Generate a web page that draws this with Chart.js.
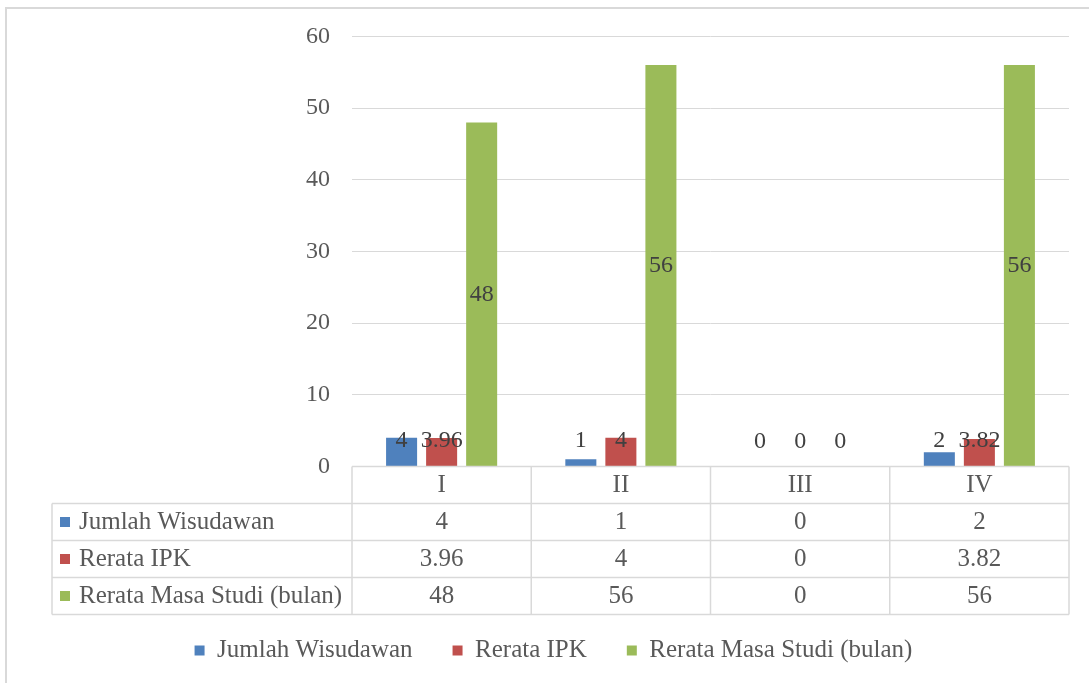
<!DOCTYPE html>
<html><head><meta charset="utf-8">
<script src="https://cdn.jsdelivr.net/npm/chart.js@4.4.1/dist/chart.umd.min.js"></script>
<style>
html,body{margin:0;padding:0;background:#fff;overflow:hidden;}
#wrap{position:relative;width:1089px;height:683px;}
</style></head><body>
<div id="wrap"><canvas id="c"></canvas></div>
<script>
const categories = ['I', 'II', 'III', 'IV'];
const seriesNames = ['Jumlah Wisudawan', 'Rerata IPK', 'Rerata Masa Studi (bulan)'];
const jumlahWisudawan = [4, 1, 0, 2];
const rerataIPK = [3.96, 4, 0, 3.82];
const rerataMasaStudi = [48, 56, 0, 56];
const yTickValues = [0, 10, 20, 30, 40, 50, 60];
const seriesColors = ['#4f81bd', '#c0504d', '#9bbb59'];

const FONT = "'Liberation Serif', 'Times New Roman', serif";
const TEXT = '#595959';
const LINE = '#d9d9d9';
const seriesValues = [jumlahWisudawan, rerataIPK, rerataMasaStudi];

const framePlugin = {
  id: 'frame',
  beforeDraw(chart) {
    const ctx = chart.ctx;
    ctx.save();
    ctx.fillStyle = '#fff';
    ctx.fillRect(0, 0, chart.width, chart.height);
    ctx.strokeStyle = LINE;
    ctx.lineWidth = 2;
    ctx.beginPath();
    ctx.moveTo(6, chart.height);
    ctx.lineTo(6, 8);
    ctx.lineTo(chart.width, 8);
    ctx.stroke();
    ctx.restore();
  }
};

const labelPlugin = {
  id: 'valueLabels',
  afterDatasetsDraw(chart) {
    const ctx = chart.ctx;
    ctx.save();
    ctx.font = '24px ' + FONT;
    ctx.fillStyle = '#404040';
    ctx.textAlign = 'center';
    ctx.textBaseline = 'middle';
    chart.data.datasets.forEach((ds, di) => {
      const meta = chart.getDatasetMeta(di);
      meta.data.forEach((el, i) => {
        const y = Math.min((el.y + el.base) / 2, el.base - 25);
        ctx.fillText(String(ds.data[i]), el.x, y);
      });
    });
    ctx.restore();
  }
};

const tablePlugin = {
  id: 'dataTable',
  afterDraw(chart) {
    const ctx = chart.ctx;
    const xs = chart.scales.x;
    const top = chart.chartArea.bottom;
    const n = categories.length;
    const colW = (xs.right - xs.left) / n;
    const rowH = 37;
    const labelLeft = xs.left - 300;
    ctx.save();
    ctx.strokeStyle = LINE;
    ctx.lineWidth = 1.5;
    ctx.beginPath();
    ctx.moveTo(xs.left, top); ctx.lineTo(xs.right, top);
    for (let r = 1; r <= 4; r++) {
      ctx.moveTo(labelLeft, top + r * rowH); ctx.lineTo(xs.right, top + r * rowH);
    }
    for (let c = 0; c <= n; c++) {
      const x = xs.left + c * colW;
      ctx.moveTo(x, top); ctx.lineTo(x, top + 4 * rowH);
    }
    ctx.moveTo(labelLeft, top + rowH); ctx.lineTo(labelLeft, top + 4 * rowH);
    ctx.stroke();

    ctx.font = '25px ' + FONT;
    ctx.fillStyle = TEXT;
    ctx.textBaseline = 'middle';
    ctx.textAlign = 'center';
    categories.forEach((cat, i) => {
      ctx.fillText(cat, xs.getPixelForValue(i), top + rowH / 2);
    });
    seriesValues.forEach((vals, s) => {
      const cy = top + (s + 1) * rowH + rowH / 2;
      ctx.textAlign = 'center';
      vals.forEach((v, i) => ctx.fillText(String(v), xs.getPixelForValue(i), cy));
      ctx.fillStyle = seriesColors[s];
      ctx.fillRect(labelLeft + 8, cy - 5, 10, 10);
      ctx.fillStyle = TEXT;
      ctx.textAlign = 'left';
      ctx.fillText(seriesNames[s], labelLeft + 27, cy);
    });
    ctx.restore();
  }
};

new Chart(document.getElementById('c'), {
  type: 'bar',
  data: {
    labels: categories,
    datasets: seriesNames.map((name, s) => ({
      label: name,
      data: seriesValues[s],
      backgroundColor: seriesColors[s],
      borderWidth: 0,
      categoryPercentage: 0.67,
      barPercentage: 0.775
    }))
  },
  options: {
    responsive: true,
    maintainAspectRatio: false,
    animation: false,
    devicePixelRatio: 1,
    layout: { padding: { left: 38, right: 20, top: 24, bottom: 10 } },
    plugins: {
      legend: {
        position: 'bottom',
        labels: {
          boxWidth: 10, boxHeight: 10, padding: 40,
          color: TEXT,
          font: { family: FONT, size: 25 }
        }
      },
      tooltip: { enabled: false }
    },
    scales: {
      x: {
        grid: { display: false },
        border: { display: false },
        ticks: { display: false },
        afterFit(scale) { scale.height = 131.5; }
      },
      y: {
        min: yTickValues[0],
        max: yTickValues[yTickValues.length - 1],
        grid: { color: LINE, lineWidth: 1, drawTicks: false },
        border: { display: false },
        ticks: {
          stepSize: yTickValues[1] - yTickValues[0],
          padding: 22,
          color: TEXT,
          font: { family: FONT, size: 24 }
        },
        afterFit(scale) { scale.width = 314; }
      }
    }
  },
  plugins: [framePlugin, labelPlugin, tablePlugin]
});
</script>
</body></html>
